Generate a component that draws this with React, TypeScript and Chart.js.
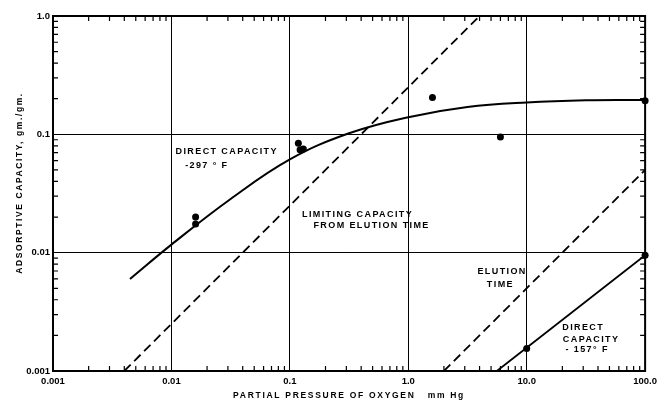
import React, { useEffect, useRef } from 'react';
import { Chart, registerables } from 'chart.js';

Chart.register(...registerables);

// ---- tick values / labels ----
const xTickValues = [0.001, 0.01, 0.1, 1, 10, 100];
const xTickLabels = ['0.001', '0.01', '0.1', '1.0', '10.0', '100.0'];
const yTickValues = [0.001, 0.01, 0.1, 1];
const yTickLabels = ['0.001', '0.01', '0.1', '1.0'];

// ---- measured points ----
const measuredPressure = [0.016, 0.016, 0.118, 0.122, 0.13, 1.6, 6.0, 100, 10, 100];
const measuredCapacity = [0.02, 0.0175, 0.084, 0.074, 0.075, 0.205, 0.095, 0.192, 0.00155, 0.0095];

// ---- direct capacity -297 F (smooth curve) ----
const direct297Pressure = [0.00447, 0.01, 0.0316, 0.1, 0.316, 1.0, 3.16, 10, 31.6, 100];
const direct297Capacity = [0.006, 0.0117, 0.0284, 0.0614, 0.102, 0.1396, 0.17, 0.186, 0.194, 0.195];

// ---- limiting capacity from elution time (dashed) ----
const limitingPressure = [0.004, 4.0];
const limitingCapacity = [0.001, 1.0];

// ---- elution time (dashed) ----
const elutionPressure = [2.0, 100];
const elutionCapacity = [0.001, 0.05];

// ---- direct capacity -157 F ----
const direct157Pressure = [5.6, 100];
const direct157Capacity = [0.001, 0.0095];

// ---- annotation texts (anchored at data coordinates) ----
const noteTexts = [
  'DIRECT CAPACITY',
  '-297 \u00B0 F',
  'LIMITING CAPACITY',
  'FROM ELUTION TIME',
  'ELUTION',
  'TIME',
  'DIRECT',
  'CAPACITY',
  '- 157\u00B0 F',
];
const noteX = [0.0293, 0.0199, 0.373, 0.49, 6.2, 6.0, 30, 35, 32.4];
const noteY = [0.071, 0.054, 0.0212, 0.0168, 0.00687, 0.00543, 0.00231, 0.00186, 0.00153];

const xTitle = 'PARTIAL PRESSURE OF OXYGEN   mm Hg';
const yTitle = 'ADSORPTIVE CAPACITY, gm./gm.';

const pts = (xs: number[], ys: number[]) => xs.map((x, i) => ({ x, y: ys[i] }));

const FONT = '"Liberation Sans", Arial, sans-serif';

const decorPlugin = {
  id: 'decor',
  afterDraw(chart: any) {
    const { ctx, chartArea: a, scales } = chart;
    const xs = scales.x;
    const ys = scales.y;
    ctx.save();
    ctx.strokeStyle = '#000';
    ctx.lineWidth = 1.2;
    // minor ticks (inward) on all four sides
    for (let e = -3; e <= 1; e++) {
      for (let m = 2; m <= 9; m++) {
        const px = xs.getPixelForValue(m * Math.pow(10, e));
        ctx.beginPath();
        ctx.moveTo(px, a.bottom);
        ctx.lineTo(px, a.bottom - 5);
        ctx.moveTo(px, a.top);
        ctx.lineTo(px, a.top + 5);
        ctx.stroke();
      }
    }
    for (let e = -3; e <= -1; e++) {
      for (let m = 2; m <= 9; m++) {
        const py = ys.getPixelForValue(m * Math.pow(10, e));
        ctx.beginPath();
        ctx.moveTo(a.left, py);
        ctx.lineTo(a.left + 5, py);
        ctx.moveTo(a.right, py);
        ctx.lineTo(a.right - 5, py);
        ctx.stroke();
      }
    }
    // frame
    ctx.lineWidth = 2;
    ctx.strokeRect(a.left, a.top, a.right - a.left, a.bottom - a.top);

    // annotations
    ctx.fillStyle = '#000';
    ctx.font = `bold 9px ${FONT}`;
    (ctx as any).letterSpacing = '1.4px';
    ctx.textAlign = 'center';
    ctx.textBaseline = 'middle';
    noteTexts.forEach((t, i) => {
      ctx.fillText(t, xs.getPixelForValue(noteX[i]), ys.getPixelForValue(noteY[i]));
    });

    // axis titles
    ctx.font = `bold 8.5px ${FONT}`;
    (ctx as any).letterSpacing = '1.7px';
    ctx.fillText(xTitle, (a.left + a.right) / 2, 396);
    ctx.save();
    ctx.translate(20, 183);
    ctx.rotate(-Math.PI / 2);
    (ctx as any).letterSpacing = '1.6px';
    ctx.fillText(yTitle, 0, 0);
    ctx.restore();
    ctx.restore();
  },
};

export default function App() {
  const ref = useRef<HTMLCanvasElement | null>(null);

  useEffect(() => {
    if (!ref.current) return;
    const chart = new Chart(ref.current, {
      type: 'scatter',
      data: {
        datasets: [
          {
            data: pts(measuredPressure, measuredCapacity),
            showLine: false,
            pointRadius: 3.5,
            pointBackgroundColor: '#000',
            pointBorderColor: '#000',
            pointBorderWidth: 0,
            clip: false as any,
          },
          {
            data: pts(direct297Pressure, direct297Capacity),
            showLine: true,
            borderColor: '#000',
            borderWidth: 2,
            pointRadius: 0,
            tension: 0.4,
          },
          {
            data: pts(limitingPressure, limitingCapacity),
            showLine: true,
            borderColor: '#000',
            borderWidth: 1.8,
            borderDash: [9, 5],
            pointRadius: 0,
          },
          {
            data: pts(elutionPressure, elutionCapacity),
            showLine: true,
            borderColor: '#000',
            borderWidth: 1.8,
            borderDash: [9, 5],
            pointRadius: 0,
          },
          {
            data: pts(direct157Pressure, direct157Capacity),
            showLine: true,
            borderColor: '#000',
            borderWidth: 1.8,
            pointRadius: 0,
          },
        ],
      },
      options: {
        animation: false,
        responsive: false,
        layout: { padding: { left: 0, top: 16, right: 16, bottom: 0 } },
        plugins: {
          legend: { display: false },
          tooltip: { enabled: false },
        },
        scales: {
          x: {
            type: 'logarithmic',
            min: 0.001,
            max: 100,
            afterBuildTicks: (s: any) => {
              s.ticks = xTickValues.map((v) => ({ value: v }));
            },
            afterFit: (s: any) => {
              s.height = 31;
            },
            grid: { color: '#000', lineWidth: 1, drawTicks: false },
            border: { display: false },
            ticks: {
              autoSkip: false,
              maxRotation: 0,
              padding: 5,
              color: '#000',
              font: { family: FONT, size: 9.5, weight: 'bold' },
              callback: (_v: any, i: number) => xTickLabels[i],
            },
          },
          y: {
            type: 'logarithmic',
            min: 0.001,
            max: 1,
            afterBuildTicks: (s: any) => {
              s.ticks = yTickValues.map((v) => ({ value: v }));
            },
            afterFit: (s: any) => {
              s.width = 53;
            },
            grid: { color: '#000', lineWidth: 1, drawTicks: false },
            border: { display: false },
            ticks: {
              autoSkip: false,
              padding: 3,
              color: '#000',
              font: { family: FONT, size: 9.5, weight: 'bold' },
              callback: (_v: any, i: number) => yTickLabels[i],
            },
          },
        },
      },
      plugins: [decorPlugin],
    } as any);
    return () => chart.destroy();
  }, []);

  return (
    <div style={{ position: 'fixed', left: 0, top: 0, width: 662, height: 402, background: '#fff' }}>
      <canvas ref={ref} width={662} height={402} style={{ display: 'block' }} />
    </div>
  );
}
